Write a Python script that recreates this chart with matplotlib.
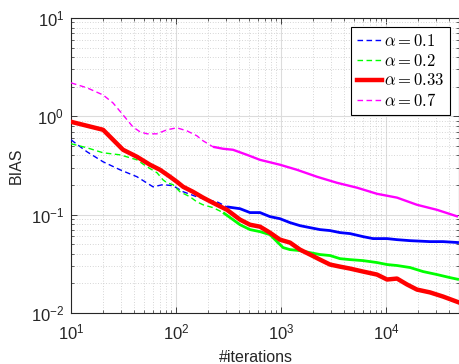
import numpy as np
import matplotlib
matplotlib.use("Agg")
import matplotlib.pyplot as plt
from matplotlib.ticker import LogLocator, NullFormatter, FuncFormatter

plt.rcParams["font.family"] = ["Liberation Sans", "DejaVu Sans"]
plt.rcParams["mathtext.fontset"] = "cm"

# ---- BIAS vs. number of iterations for each alpha ----
iters_a01 = [10, 14.2, 20.2, 29.3, 42.5, 60.4, 75.2, 93.6, 117, 158, 197, 246, 306,
             407, 507, 631, 785, 977, 1218, 1517, 1888, 2350, 2930, 3650, 4540,
             6040, 7520, 10230, 12730, 16950, 26240, 34900, 49500]
bias_a01 = [0.577, 0.436, 0.345, 0.286, 0.243, 0.192, 0.202, 0.197, 0.171, 0.152, 0.142,
            0.135, 0.120, 0.115, 0.105, 0.105, 0.0955, 0.091, 0.083, 0.0773, 0.0738,
            0.0705, 0.0689, 0.0657, 0.0642, 0.0598, 0.0571, 0.0571, 0.0557, 0.0544,
            0.0532, 0.0532, 0.052]

iters_a02 = [10, 14.2, 20.2, 29.3, 42.5, 52.9, 65.9, 75.2, 82, 93.6, 109, 136, 158, 181,
             225, 281, 349, 407, 507, 631, 785, 916, 1045, 1218, 1517, 1888, 2350,
             2930, 3650, 4540, 6040, 8200, 10230, 12730, 16950, 22500, 30600, 40700,
             49500]
bias_a02 = [0.526, 0.479, 0.426, 0.406, 0.361, 0.307, 0.267, 0.226, 0.211, 0.202, 0.171,
            0.152, 0.135, 0.126, 0.118, 0.105, 0.089, 0.079, 0.0705, 0.0672, 0.0626,
            0.0532, 0.0463, 0.0441, 0.0431, 0.0411, 0.0393, 0.0384, 0.0357, 0.0349,
            0.0341, 0.0326, 0.0311, 0.0304, 0.029, 0.0264, 0.0246, 0.0229, 0.0219]

iters_a033 = [10, 20.2, 31.3, 42.5, 56.5, 70.4, 87.7, 102, 117, 145, 181, 225, 306, 407,
              507, 631, 785, 977, 1218, 1517, 1888, 2350, 2930, 3650, 4540, 6040, 8200,
              10230, 12730, 15850, 19730, 26240, 34900, 49500]
bias_a033 = [0.88, 0.73, 0.457, 0.388, 0.322, 0.286, 0.243, 0.216, 0.192, 0.171, 0.149,
             0.132, 0.112, 0.089, 0.079, 0.0755, 0.0656, 0.0557, 0.052, 0.0441, 0.0393,
             0.0349, 0.0311, 0.0296, 0.0283, 0.0264, 0.0246, 0.0219, 0.0224, 0.0195,
             0.0173, 0.0162, 0.0147, 0.0128]

iters_a07 = [10, 14.2, 20.2, 25.1, 31.3, 38.9, 45.4, 52.9, 65.9, 82, 102, 127, 158, 181,
             225, 281, 349, 474, 631, 977, 1419, 2200, 3410, 5300, 8200, 12730, 19730,
             30600, 48500]
bias_a07 = [2.19, 1.95, 1.65, 1.37, 1.035, 0.78, 0.696, 0.664, 0.664, 0.73, 0.764, 0.712,
            0.634, 0.564, 0.49, 0.468, 0.457, 0.406, 0.361, 0.322, 0.286, 0.243, 0.211,
            0.188, 0.163, 0.149, 0.126, 0.112, 0.0955]

labels = [r"$\alpha = 0.1$", r"$\alpha = 0.2$", r"$\alpha = 0.33$", r"$\alpha = 0.7$"]

fig = plt.figure(figsize=(4.59, 3.64), dpi=100)
ax = fig.add_axes([71 / 459, 51 / 364, 388.4 / 459, 295 / 364])
ax.set_xscale("log")
ax.set_yscale("log")


def dashed_then_dense(ax, x, y, color, cut, label, lw_dense=1.7):
    """Thin dashed line for the sparse early part, solid where samples get dense."""
    x = np.asarray(x, float)
    y = np.asarray(y, float)
    head = x <= cut
    ax.plot(x[head], y[head], color=color, lw=1.0, linestyle=(0, (4, 2.5)),
            label=label, zorder=3)
    start = np.nonzero(head)[0][-1]
    ax.plot(x[start:], y[start:], color=color, lw=lw_dense, solid_joinstyle="round",
            solid_capstyle="butt", zorder=3)


dashed_then_dense(ax, iters_a01, bias_a01, "#0000ff", 306, labels[0], 2.0)
dashed_then_dense(ax, iters_a02, bias_a02, "#00ff00", 281, labels[1], 2.0)
ax.plot(iters_a033, bias_a033, color="#ff0000", lw=3.2, solid_joinstyle="round",
        label=labels[2], zorder=4)
dashed_then_dense(ax, iters_a07, bias_a07, "#ff00ff", 225, labels[3], 1.7)

ax.set_xlim(10, 5e4)
ax.set_ylim(1e-2, 10)


def pow10(v, pos):
    return r"$\mathregular{10^{%d}}$" % int(round(np.log10(v)))


ax.xaxis.set_major_locator(LogLocator(base=10, numticks=10))
ax.yaxis.set_major_locator(LogLocator(base=10, numticks=10))
ax.xaxis.set_major_formatter(FuncFormatter(pow10))
ax.yaxis.set_major_formatter(FuncFormatter(pow10))
ax.xaxis.set_minor_locator(LogLocator(base=10, subs=np.arange(2, 10), numticks=20))
ax.yaxis.set_minor_locator(LogLocator(base=10, subs=np.arange(2, 10), numticks=20))
ax.xaxis.set_minor_formatter(NullFormatter())
ax.yaxis.set_minor_formatter(NullFormatter())

ax.grid(True, which="major", color="#dcdcdc", lw=0.8, linestyle="-", zorder=0)
ax.grid(True, which="minor", color="#c8c8c8", lw=0.6, linestyle=(0, (1, 2.2)), zorder=0)
ax.set_axisbelow(True)

axis_col = "#262626"
for s in ax.spines.values():
    s.set_color(axis_col)
    s.set_linewidth(0.8)
ax.tick_params(which="both", direction="in", top=True, right=True, colors=axis_col,
               labelcolor="#262626")
ax.tick_params(which="major", length=4, width=0.6, labelsize=12, pad=5)
ax.tick_params(axis="x", which="major", pad=7)
ax.tick_params(which="minor", length=2.2, width=0.5)

ax.set_ylabel("BIAS", fontsize=11.5, color="#262626")
ax.set_xlabel("#iterations", fontsize=11.5, color="#262626")
ax.xaxis.set_label_coords((256 - 71) / 388.4, -0.125)
ax.yaxis.set_label_coords(-0.122, 0.5)

leg = ax.legend(loc="upper right", fontsize=12,
                handlelength=1.5, handletextpad=0.15, borderpad=0.35, labelspacing=0.22,
                borderaxespad=0.55, fancybox=False, framealpha=1, edgecolor="#000000")
leg.get_frame().set_linewidth(0.8)

fig.savefig("out.png", dpi=100)
